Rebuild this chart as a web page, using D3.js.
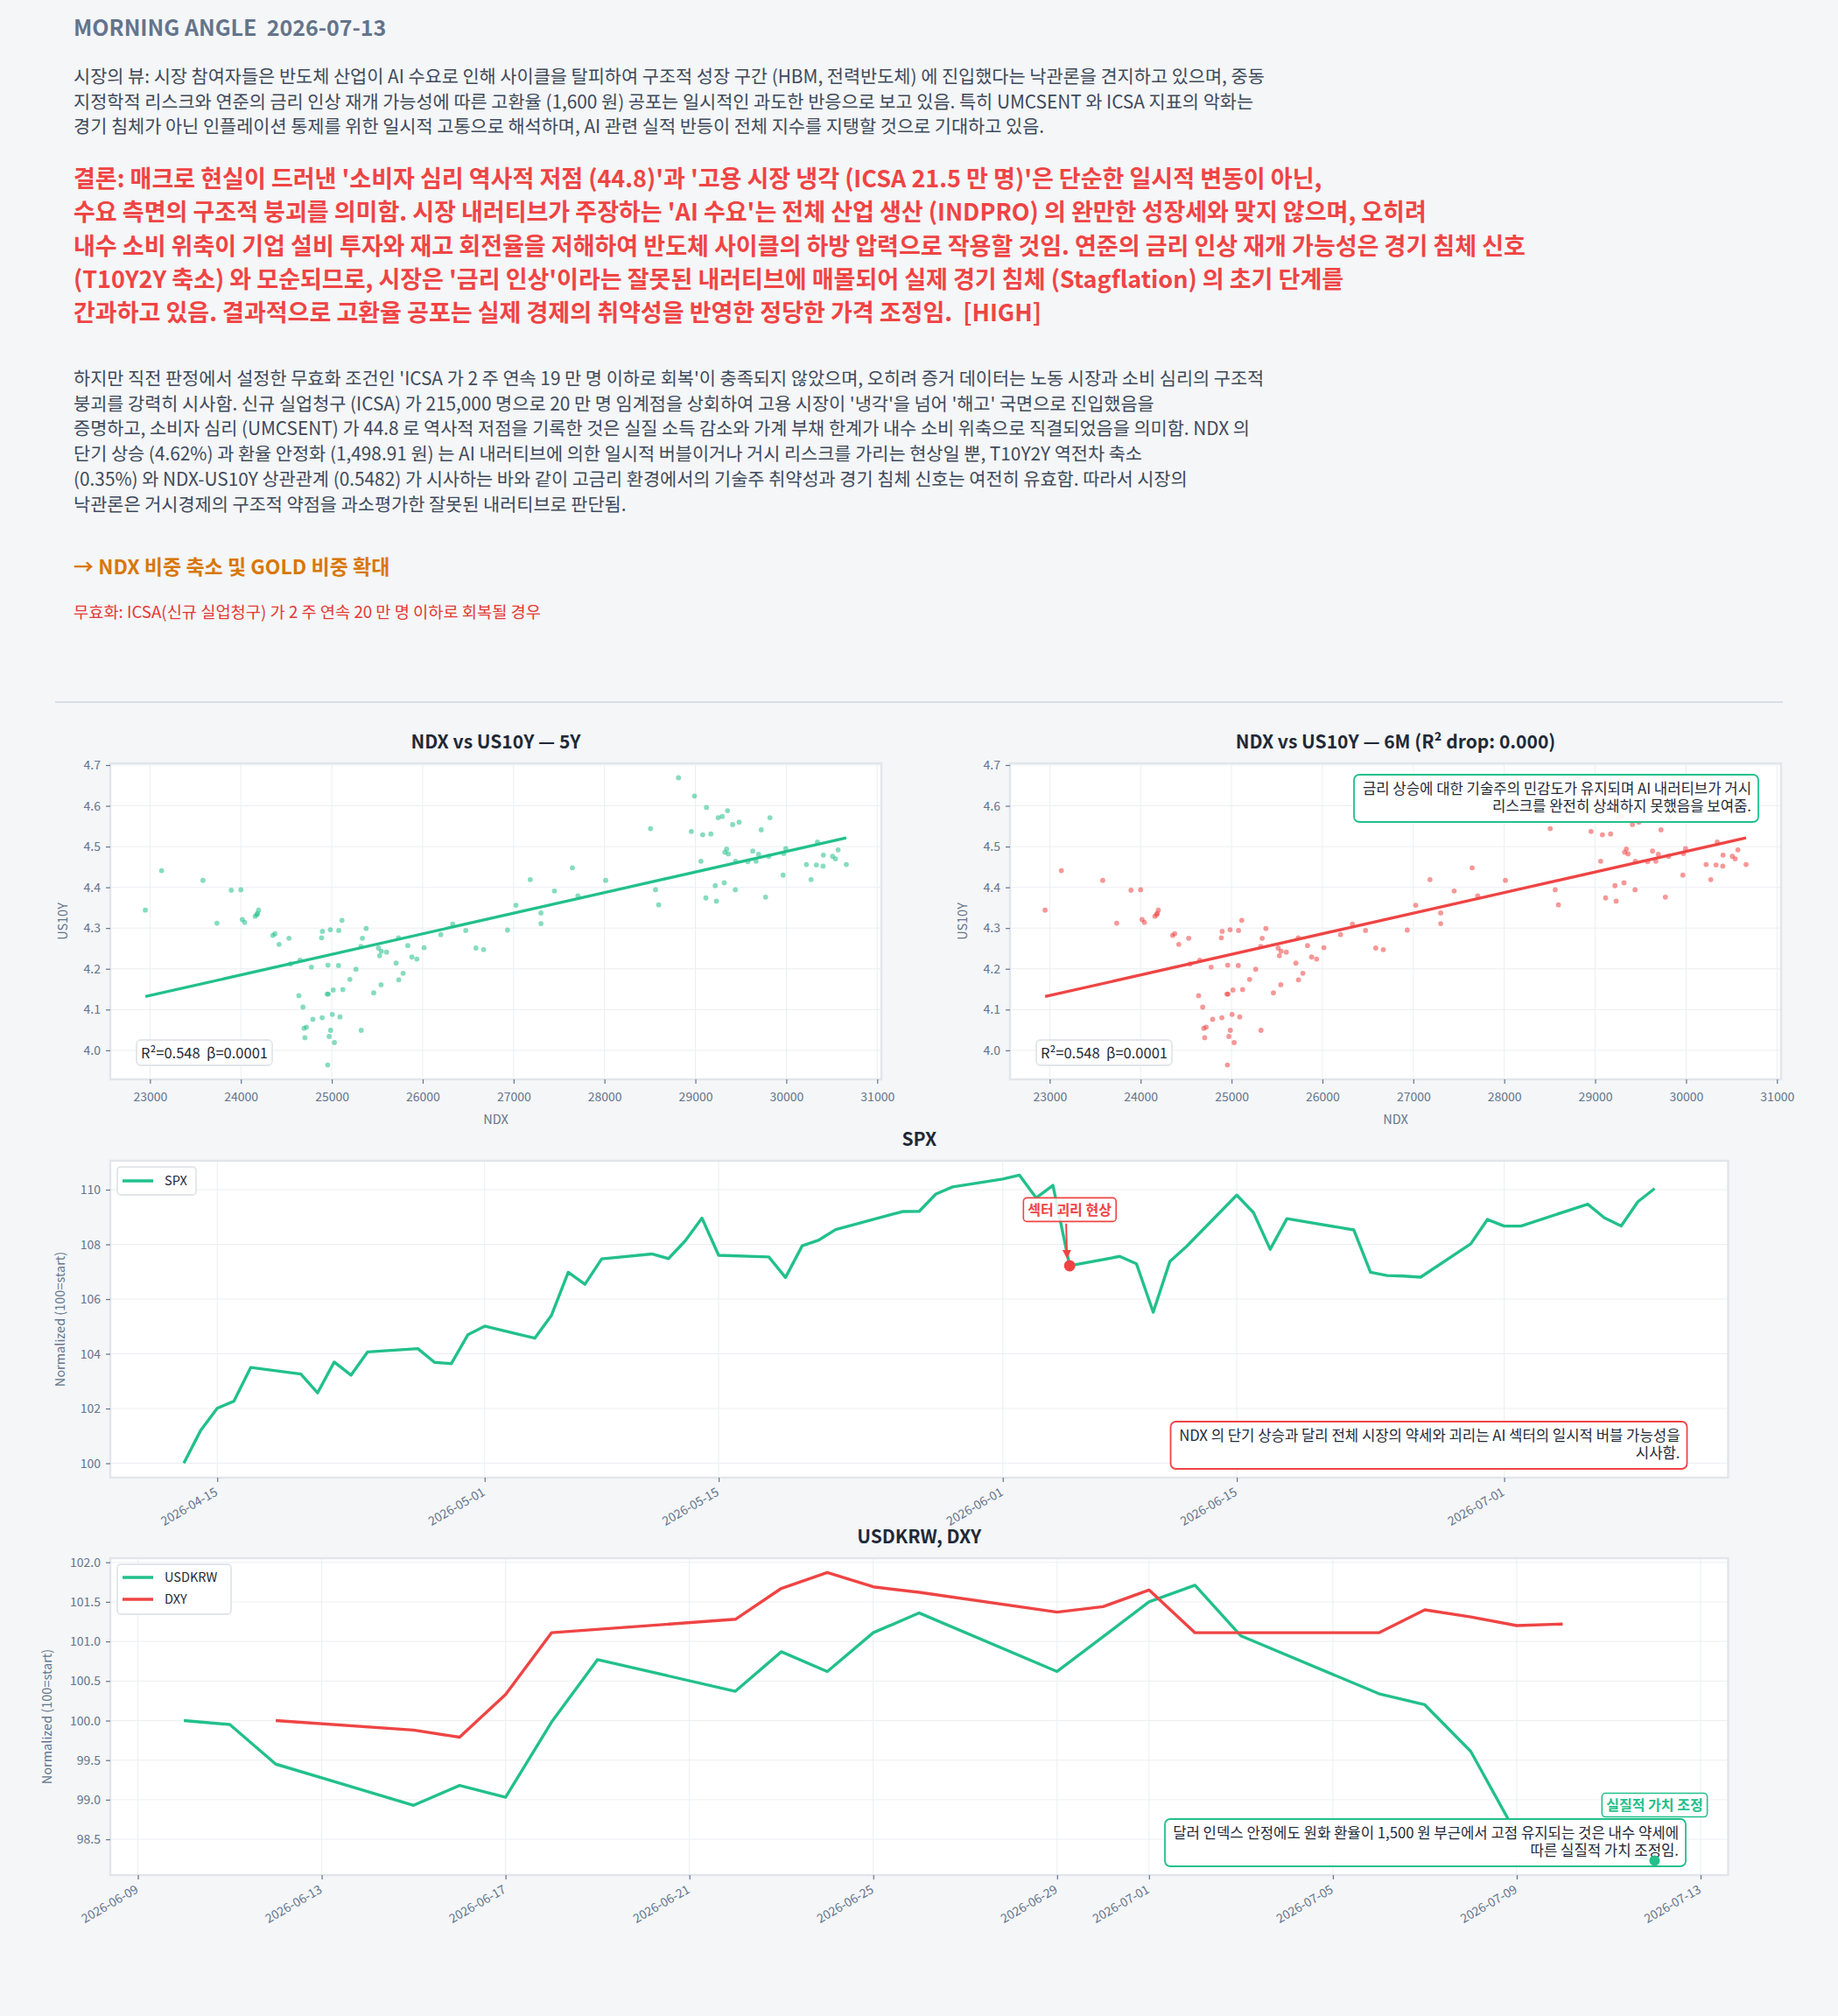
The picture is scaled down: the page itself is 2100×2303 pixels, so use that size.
<!DOCTYPE html>
<html><head><meta charset="utf-8">
<script src="https://cdn.jsdelivr.net/npm/d3@7"></script>
<style>
body{margin:0;background:#f4f6f8;}
svg text{font-family:"Noto Sans CJK KR","Noto Sans",sans-serif;white-space:pre;}
</style></head><body>
<svg id="c" width="2100" height="2303"></svg>
<script>
// ---------------- DATA ----------------
const headerTitle = "MORNING ANGLE  2026-07-13";
const viewLines = [
 "시장의 뷰: 시장 참여자들은 반도체 산업이 AI 수요로 인해 사이클을 탈피하여 구조적 성장 구간 (HBM, 전력반도체) 에 진입했다는 낙관론을 견지하고 있으며, 중동",
 "지정학적 리스크와 연준의 금리 인상 재개 가능성에 따른 고환율 (1,600 원) 공포는 일시적인 과도한 반응으로 보고 있음. 특히 UMCSENT 와 ICSA 지표의 악화는",
 "경기 침체가 아닌 인플레이션 통제를 위한 일시적 고통으로 해석하며, AI 관련 실적 반등이 전체 지수를 지탱할 것으로 기대하고 있음."
];
const conclusionLines = [
 "결론: 매크로 현실이 드러낸 '소비자 심리 역사적 저점 (44.8)'과 '고용 시장 냉각 (ICSA 21.5 만 명)'은 단순한 일시적 변동이 아닌,",
 "수요 측면의 구조적 붕괴를 의미함. 시장 내러티브가 주장하는 'AI 수요'는 전체 산업 생산 (INDPRO) 의 완만한 성장세와 맞지 않으며, 오히려",
 "내수 소비 위축이 기업 설비 투자와 재고 회전율을 저해하여 반도체 사이클의 하방 압력으로 작용할 것임. 연준의 금리 인상 재개 가능성은 경기 침체 신호",
 "(T10Y2Y 축소) 와 모순되므로, 시장은 '금리 인상'이라는 잘못된 내러티브에 매몰되어 실제 경기 침체 (Stagflation) 의 초기 단계를",
 "간과하고 있음. 결과적으로 고환율 공포는 실제 경제의 취약성을 반영한 정당한 가격 조정임.  [HIGH]"
];
const evidenceLines = [
 "하지만 직전 판정에서 설정한 무효화 조건인 'ICSA 가 2 주 연속 19 만 명 이하로 회복'이 충족되지 않았으며, 오히려 증거 데이터는 노동 시장과 소비 심리의 구조적",
 "붕괴를 강력히 시사함. 신규 실업청구 (ICSA) 가 215,000 명으로 20 만 명 임계점을 상회하여 고용 시장이 '냉각'을 넘어 '해고' 국면으로 진입했음을",
 "증명하고, 소비자 심리 (UMCSENT) 가 44.8 로 역사적 저점을 기록한 것은 실질 소득 감소와 가계 부채 한계가 내수 소비 위축으로 직결되었음을 의미함. NDX 의",
 "단기 상승 (4.62%) 과 환율 안정화 (1,498.91 원) 는 AI 내러티브에 의한 일시적 버블이거나 거시 리스크를 가리는 현상일 뿐, T10Y2Y 역전차 축소",
 "(0.35%) 와 NDX-US10Y 상관관계 (0.5482) 가 시사하는 바와 같이 고금리 환경에서의 기술주 취약성과 경기 침체 신호는 여전히 유효함. 따라서 시장의",
 "낙관론은 거시경제의 구조적 약점을 과소평가한 잘못된 내러티브로 판단됨."
];
const actionLine = "→ NDX 비중 축소 및 GOLD 비중 확대";
const invalidLine = "무효화: ICSA(신규 실업청구) 가 2 주 연속 20 만 명 이하로 회복될 경우";

// scatter NDX vs US10Y
const ndx = [22949,23128,23583,23737,23894,24000,24016,24042,24157,24183,24195,24176,24352,24375,24420,24529,24545,24651,24638,24683,
 24776,24792,24695,24721,24705,24894,24888,24897,24984,25077,25112,24958,24949,24962,25016,25006,25090,24987,24971,25029,
 24955,25074,25122,25199,25266,25324,25321,25337,25378,25461,25513,25526,25545,25603,25542,25708,25737,25785,25734,25836,
 25881,25936,26016,26199,26330,26474,26586,26670,26933,27026,27183,27301,27301,27449,27647,27708,28013,28506,28561,28596,
 28814,28955,28990,29061,29080,29122,29170,29115,29218,29231,29250,29295,29353,29410,29481,29317,29324,29343,29362,29439,
 29442,29577,29631,29667,29695,29724,29808,29820,29772,29965,29971,29994,30221,30272,30330,30343,30404,30407,30509,30541,
 30570,30660];
const us10y = [4.344,4.441,4.417,4.312,4.393,4.394,4.321,4.314,4.329,4.336,4.344,4.333,4.282,4.286,4.260,4.275,4.212,4.221,4.134,4.106,
 4.204,4.076,4.054,4.057,4.031,4.080,4.276,4.292,4.296,4.294,4.319,4.209,4.138,4.138,4.148,4.088,4.082,4.049,4.034,4.019,
 3.964,4.208,4.149,4.174,4.199,4.049,4.255,4.275,4.299,4.141,4.251,4.232,4.243,4.241,4.161,4.214,4.173,4.189,4.276,4.257,
 4.229,4.224,4.252,4.284,4.310,4.294,4.251,4.247,4.295,4.356,4.419,4.337,4.311,4.391,4.448,4.379,4.417,4.544,4.394,4.357,
 4.669,4.537,4.624,4.464,4.529,4.596,4.531,4.374,4.404,4.366,4.571,4.574,4.588,4.554,4.560,4.411,4.486,4.494,4.482,4.394,
 4.464,4.463,4.489,4.464,4.481,4.541,4.476,4.571,4.376,4.430,4.483,4.495,4.456,4.419,4.455,4.511,4.452,4.479,4.476,4.470,
 4.492,4.456];
const ndxTicks = [23000,24000,25000,26000,27000,28000,29000,30000,31000];
const us10yTicks = [4.0,4.1,4.2,4.3,4.4,4.5,4.6,4.7];
const scatterTitles = ["NDX vs US10Y — 5Y","NDX vs US10Y — 6M (R² drop: 0.000)"];
const statLabel = "R²=0.548  β=0.0001";
const scatterNote = ["금리 상승에 대한 기술주의 민감도가 유지되며 AI 내러티브가 거시","리스크를 완전히 상쇄하지 못했음을 보여줌."];

// SPX normalized
const spxDates = ["2026-04-13","2026-04-14","2026-04-15","2026-04-16","2026-04-17","2026-04-20","2026-04-21","2026-04-22","2026-04-23","2026-04-24",
 "2026-04-27","2026-04-28","2026-04-29","2026-04-30","2026-05-01","2026-05-04","2026-05-05","2026-05-06","2026-05-07","2026-05-08",
 "2026-05-11","2026-05-12","2026-05-13","2026-05-14","2026-05-15","2026-05-18","2026-05-19","2026-05-20","2026-05-21","2026-05-22",
 "2026-05-26","2026-05-27","2026-05-28","2026-05-29","2026-06-01","2026-06-02","2026-06-03","2026-06-04","2026-06-05","2026-06-08",
 "2026-06-09","2026-06-10","2026-06-11","2026-06-12","2026-06-15","2026-06-16","2026-06-17","2026-06-18","2026-06-22","2026-06-23",
 "2026-06-24","2026-06-25","2026-06-26","2026-06-29","2026-06-30","2026-07-01","2026-07-02","2026-07-06","2026-07-07","2026-07-08",
 "2026-07-09","2026-07-10"];
const spxValues = [100.00,101.19,102.01,102.27,103.50,103.26,102.57,103.70,103.22,104.07,
 104.19,103.69,103.64,104.70,105.01,104.57,105.41,106.98,106.54,107.47,
 107.65,107.48,108.13,108.96,107.60,107.54,106.79,107.95,108.16,108.54,
 109.20,109.21,109.84,110.10,110.39,110.53,109.70,110.16,107.22,107.56,
 107.29,105.52,107.38,107.93,109.80,109.16,107.82,108.94,108.53,106.98,
 106.86,106.84,106.80,108.02,108.91,108.67,108.67,109.47,108.97,108.67,
 109.56,110.04];
const spxTicks = ["2026-04-15","2026-05-01","2026-05-15","2026-06-01","2026-06-15","2026-07-01"];
const spxYTicks = [100,102,104,106,108,110];
const spxFlagDate = "2026-06-05";
const spxFlagLabel = "섹터 괴리 현상";
const spxNote = ["NDX 의 단기 상승과 달리 전체 시장의 약세와 괴리는 AI 섹터의 일시적 버블 가능성을","시사함."];

// USDKRW & DXY normalized
const krwDates = ["2026-06-10","2026-06-11","2026-06-12","2026-06-15","2026-06-16","2026-06-17","2026-06-18","2026-06-19","2026-06-22","2026-06-23",
 "2026-06-24","2026-06-25","2026-06-26","2026-06-29","2026-07-01","2026-07-02","2026-07-03","2026-07-06","2026-07-07","2026-07-08",
 "2026-07-09","2026-07-10","2026-07-12"];
const krwValues = [100.00,99.95,99.45,98.93,99.18,99.03,99.98,100.77,100.37,100.87,
 100.62,101.11,101.36,100.62,101.50,101.71,101.07,100.34,100.20,99.61,
 98.56,98.50,98.23];
const dxyDates = ["2026-06-12","2026-06-15","2026-06-16","2026-06-17","2026-06-18","2026-06-22","2026-06-23","2026-06-24","2026-06-25","2026-06-26",
 "2026-06-29","2026-06-30","2026-07-01","2026-07-02","2026-07-06","2026-07-07","2026-07-08","2026-07-09","2026-07-10"];
const dxyValues = [100.00,99.88,99.79,100.33,101.11,101.28,101.67,101.87,101.69,101.62,
 101.37,101.44,101.65,101.11,101.11,101.40,101.31,101.20,101.22];
const fxTicks = ["2026-06-09","2026-06-13","2026-06-17","2026-06-21","2026-06-25","2026-06-29","2026-07-01","2026-07-05","2026-07-09","2026-07-13"];
const fxYTicks = [98.5,99.0,99.5,100.0,100.5,101.0,101.5,102.0];
const fxFlagDate = "2026-07-12";
const fxFlagLabel = "실질적 가치 조정";
const fxNote = ["달러 인덱스 안정에도 원화 환율이 1,500 원 부근에서 고점 유지되는 것은 내수 약세에","따른 실질적 가치 조정임."];

// ---------------- STYLE ----------------
const GREEN = "#22c08b", RED = "#ef4444", TICKC = "#64748b", DARK = "#1f2937";
const GRID = "#eceef2", BORDER = "#e2e5ea";
const LABELFONT = '"DejaVu Sans", sans-serif';
const svg = d3.select("#c");
const parse = d3.timeParse("%Y-%m-%d");
const fmtDate = d3.timeFormat("%Y-%m-%d");

// ---------------- HEADER ----------------
function textLines(arr, x, y0, dy, size, weight, color) {
  arr.forEach((t, i) => svg.append("text").attr("x", x).attr("y", y0 + i * dy)
    .attr("font-size", size).attr("font-weight", weight).attr("fill", color).text(t));
}
textLines([headerTitle], 84, 41, 0, 25, 700, "#64748b");
textLines(viewLines, 84, 95, 28.5, 20.8, 400, "#3f4a5a");
textLines(conclusionLines, 84, 214, 38.3, 27, 700, RED);
textLines(evidenceLines, 84, 440, 28.7, 20.8, 400, "#3f4a5a");
textLines([actionLine], 84, 656, 0, 23, 700, "#d97706");
textLines([invalidLine], 84, 706, 0, 18.7, 400, "#e53935");
svg.append("line").attr("x1", 63).attr("x2", 2037).attr("y1", 802).attr("y2", 802)
  .attr("stroke", "#cfd6de").attr("stroke-width", 1.5);

// ---------------- helpers ----------------
function padDomain(ext, f = 0.05) { const r = ext[1] - ext[0]; return [ext[0] - r * f, ext[1] + r * f]; }
function padTime(ext, f = 0.05) { const r = ext[1] - ext[0]; return [new Date(+ext[0] - r * f), new Date(+ext[1] + r * f)]; }

function plotFrame(g, w, h) {
  g.append("rect").attr("width", w).attr("height", h).attr("fill", "#fff");
}
function plotBorder(g, w, h) {
  g.append("rect").attr("width", w).attr("height", h).attr("fill", "none")
    .attr("stroke", BORDER).attr("stroke-width", 2.5);
}
function grid(g, x, y, xt, yt, w, h) {
  g.append("g").selectAll("line").data(xt).join("line")
    .attr("x1", d => x(d)).attr("x2", d => x(d)).attr("y1", 0).attr("y2", h)
    .attr("stroke", GRID).attr("stroke-width", 1);
  g.append("g").selectAll("line").data(yt).join("line")
    .attr("y1", d => y(d)).attr("y2", d => y(d)).attr("x1", 0).attr("x2", w)
    .attr("stroke", GRID).attr("stroke-width", 1);
}
function styleAxis(ax) {
  ax.select(".domain").remove();
  ax.selectAll(".tick line").attr("stroke", TICKC).attr("stroke-width", 1.2);
  ax.selectAll(".tick text").attr("fill", TICKC).attr("font-size", 14)
    .attr("font-family", '"Noto Sans CJK KR","Noto Sans",sans-serif');
}
function noteBox(g, lines, xRight, yTop, w, h, color, size) {
  g.append("rect").attr("x", xRight - w).attr("y", yTop).attr("width", w).attr("height", h)
    .attr("rx", 6).attr("fill", "#fff").attr("fill-opacity", 0.9)
    .attr("stroke", color).attr("stroke-width", 1.8);
  lines.forEach((t, i) => g.append("text").attr("x", xRight - 8).attr("y", yTop + 21.5 + i * 20)
    .attr("text-anchor", "end").attr("font-size", size).attr("fill", DARK).text(t));
}
function flagLabel(g, cx, cy, label, color) {
  const t = g.append("text").attr("x", cx).attr("y", cy + 5.8).attr("text-anchor", "middle")
    .attr("font-size", 16).attr("font-weight", 700).attr("fill", color).text(label);
  const bb = t.node().getBBox();
  g.insert("rect", () => t.node()).attr("x", bb.x - 5).attr("y", cy - 13.5)
    .attr("width", bb.width + 10).attr("height", 27).attr("rx", 4)
    .attr("fill", "#fff").attr("fill-opacity", 0.85).attr("stroke", color).attr("stroke-width", 1.6);
}
function dateLabels(ax) {
  ax.selectAll(".tick text").attr("font-size", 14).attr("text-anchor", "end")
    .attr("transform", "translate(2,13) rotate(-30)").attr("dy", "0.35em").attr("y", 0).attr("x", -4);
}

// ---------------- SCATTERS ----------------
const sData = ndx.map((v, i) => ({ x: v, y: us10y[i] }));
const mx = d3.mean(ndx), my = d3.mean(us10y);
const beta = d3.sum(sData, d => (d.x - mx) * (d.y - my)) / d3.sum(sData, d => (d.x - mx) ** 2);
const alpha = my - beta * mx;
const xExt = d3.extent(ndx);

function scatter(x0, color, title, note) {
  const y0 = 872, w = 881, h = 361;
  const g = svg.append("g").attr("transform", `translate(${x0},${y0})`);
  const x = d3.scaleLinear().domain(padDomain(d3.extent(ndx))).range([0, w]);
  const y = d3.scaleLinear().domain(padDomain(d3.extent(us10y))).range([h, 0]);
  plotFrame(g, w, h);
  grid(g, x, y, ndxTicks, us10yTicks, w, h);
  g.append("g").selectAll("circle").data(sData).join("circle")
    .attr("cx", d => x(d.x)).attr("cy", d => y(d.y)).attr("r", 2.9)
    .attr("fill", color).attr("fill-opacity", 0.55);
  g.append("line").attr("x1", x(xExt[0])).attr("y1", y(alpha + beta * xExt[0]))
    .attr("x2", x(xExt[1])).attr("y2", y(alpha + beta * xExt[1]))
    .attr("stroke", color).attr("stroke-width", 3.3);
  plotBorder(g, w, h);
  styleAxis(g.append("g").call(d3.axisLeft(y).tickValues(us10yTicks).tickFormat(d3.format(".1f")).tickSize(5).tickPadding(6)));
  styleAxis(g.append("g").attr("transform", `translate(0,${h})`)
    .call(d3.axisBottom(x).tickValues(ndxTicks).tickFormat(d3.format("d")).tickSize(5).tickPadding(10)));
  g.append("text").attr("x", w / 2).attr("y", -17).attr("text-anchor", "middle")
    .attr("font-size", 21).attr("font-weight", 700).attr("fill", DARK).text(title);
  g.append("text").attr("x", w / 2).attr("y", h + 51).attr("text-anchor", "middle")
    .attr("font-size", 14.5).attr("fill", TICKC).attr("font-family", LABELFONT).text("NDX");
  g.append("text").attr("transform", `translate(${-49},${h / 2}) rotate(-90)`).attr("text-anchor", "middle")
    .attr("font-size", 14.5).attr("fill", TICKC).attr("font-family", LABELFONT).text("US10Y");
  // stat box
  const st = g.append("text").attr("x", 35).attr("y", h - 24.5).attr("font-size", 16.5).attr("fill", DARK).text(statLabel);
  const bb = st.node().getBBox();
  g.insert("rect", () => st.node()).attr("x", 30).attr("y", h - 45).attr("width", bb.width + 10).attr("height", 29)
    .attr("rx", 5).attr("fill", "#fff").attr("stroke", BORDER).attr("stroke-width", 1.8);
  if (note) noteBox(g, note, w - 26, 13, 462, 54, GREEN, 16.7);
}
scatter(126, GREEN, scatterTitles[0], null);
scatter(1154, RED, scatterTitles[1], scatterNote);

// ---------------- SPX ----------------
(function () {
  const x0 = 126, y0 = 1326, w = 1848.5, h = 362;
  const data = spxDates.map((d, i) => ({ d: parse(d), v: spxValues[i] }));
  const g = svg.append("g").attr("transform", `translate(${x0},${y0})`);
  const x = d3.scaleTime().domain(padTime(d3.extent(data, d => d.d))).range([0, w]);
  const y = d3.scaleLinear().domain(padDomain(d3.extent(spxValues))).range([h, 0]);
  const xt = spxTicks.map(parse);
  plotFrame(g, w, h);
  grid(g, x, y, xt, spxYTicks, w, h);
  g.append("path").datum(data).attr("fill", "none").attr("stroke", GREEN).attr("stroke-width", 3.4)
    .attr("stroke-linejoin", "round").attr("d", d3.line().x(d => x(d.d)).y(d => y(d.v)));
  plotBorder(g, w, h);
  styleAxis(g.append("g").call(d3.axisLeft(y).tickValues(spxYTicks).tickSize(5).tickPadding(6)));
  const ax = g.append("g").attr("transform", `translate(0,${h})`)
    .call(d3.axisBottom(x).tickValues(xt).tickFormat(fmtDate).tickSize(5).tickPadding(5));
  styleAxis(ax);
  dateLabels(ax);
  g.append("text").attr("x", w / 2).attr("y", -17).attr("text-anchor", "middle")
    .attr("font-size", 21).attr("font-weight", 700).attr("fill", DARK).text("SPX");
  g.append("text").attr("transform", `translate(${-52},${h / 2}) rotate(-90)`).attr("text-anchor", "middle")
    .attr("font-size", 14.5).attr("fill", TICKC).attr("font-family", LABELFONT).text("Normalized (100=start)");
  // legend
  g.append("rect").attr("x", 8).attr("y", 7).attr("width", 90).attr("height", 32).attr("rx", 4)
    .attr("fill", "#fff").attr("stroke", BORDER).attr("stroke-width", 1.8);
  g.append("line").attr("x1", 14).attr("x2", 49).attr("y1", 23).attr("y2", 23).attr("stroke", GREEN).attr("stroke-width", 3.4);
  g.append("text").attr("x", 62).attr("y", 28).attr("font-size", 14.5).attr("fill", DARK).text("SPX");
  // flag annotation
  const fp = data.find(d => fmtDate(d.d) === spxFlagDate);
  const px = x(fp.d), py = y(fp.v);
  flagLabel(g, px, py - 64, spxFlagLabel, RED);
  g.append("defs").append("marker").attr("id", "arrR").attr("viewBox", "0 0 10 10").attr("refX", 8).attr("refY", 5)
    .attr("markerWidth", 5).attr("markerHeight", 5).attr("orient", "auto")
    .append("path").attr("d", "M0,0 L10,5 L0,10 z").attr("fill", RED);
  g.append("line").attr("x1", px - 4).attr("y1", py - 48).attr("x2", px - 3).attr("y2", py - 10)
    .attr("stroke", RED).attr("stroke-width", 2).attr("marker-end", "url(#arrR)");
  g.append("circle").attr("cx", px).attr("cy", py).attr("r", 6.5).attr("fill", RED);
  noteBox(g, spxNote, w - 47, 298, 590, 54, RED, 16.7);
})();

// ---------------- USDKRW, DXY ----------------
(function () {
  const x0 = 126, y0 = 1780, w = 1848.5, h = 362;
  const krw = krwDates.map((d, i) => ({ d: parse(d), v: krwValues[i] }));
  const dxy = dxyDates.map((d, i) => ({ d: parse(d), v: dxyValues[i] }));
  const all = krw.concat(dxy);
  const g = svg.append("g").attr("transform", `translate(${x0},${y0})`);
  const x = d3.scaleTime().domain(padTime(d3.extent(all, d => d.d))).range([0, w]);
  const y = d3.scaleLinear().domain(padDomain(d3.extent(all, d => d.v))).range([h, 0]);
  const xt = fxTicks.map(parse);
  plotFrame(g, w, h);
  grid(g, x, y, xt, fxYTicks, w, h);
  const line = d3.line().x(d => x(d.d)).y(d => y(d.v));
  g.append("path").datum(krw).attr("fill", "none").attr("stroke", GREEN).attr("stroke-width", 3.4).attr("stroke-linejoin", "round").attr("d", line);
  g.append("path").datum(dxy).attr("fill", "none").attr("stroke", RED).attr("stroke-width", 3.4).attr("stroke-linejoin", "round").attr("d", line);
  plotBorder(g, w, h);
  styleAxis(g.append("g").call(d3.axisLeft(y).tickValues(fxYTicks).tickFormat(d3.format(".1f")).tickSize(5).tickPadding(6)));
  const ax = g.append("g").attr("transform", `translate(0,${h})`)
    .call(d3.axisBottom(x).tickValues(xt).tickFormat(fmtDate).tickSize(5).tickPadding(5));
  styleAxis(ax);
  dateLabels(ax);
  g.append("text").attr("x", w / 2).attr("y", -17).attr("text-anchor", "middle")
    .attr("font-size", 21).attr("font-weight", 700).attr("fill", DARK).text("USDKRW, DXY");
  g.append("text").attr("transform", `translate(${-67},${h / 2}) rotate(-90)`).attr("text-anchor", "middle")
    .attr("font-size", 14.5).attr("fill", TICKC).attr("font-family", LABELFONT).text("Normalized (100=start)");
  // legend
  g.append("rect").attr("x", 8).attr("y", 7).attr("width", 130).attr("height", 57).attr("rx", 4)
    .attr("fill", "#fff").attr("stroke", BORDER).attr("stroke-width", 1.8);
  [["USDKRW", GREEN], ["DXY", RED]].forEach(([n, c], i) => {
    g.append("line").attr("x1", 14).attr("x2", 49).attr("y1", 22 + i * 25).attr("y2", 22 + i * 25).attr("stroke", c).attr("stroke-width", 3.4);
    g.append("text").attr("x", 62).attr("y", 27 + i * 25).attr("font-size", 14.5).attr("fill", DARK).text(n);
  });
  const fp = krw.find(d => fmtDate(d.d) === fxFlagDate);
  const px = x(fp.d), py = y(fp.v);
  noteBox(g, fxNote, w - 48.5, 298, 595, 54, GREEN, 16.7);
  flagLabel(g, px, py - 63.5, fxFlagLabel, GREEN);
  g.append("circle").attr("cx", px).attr("cy", py).attr("r", 6).attr("fill", GREEN);
})();
</script>
</body></html>
